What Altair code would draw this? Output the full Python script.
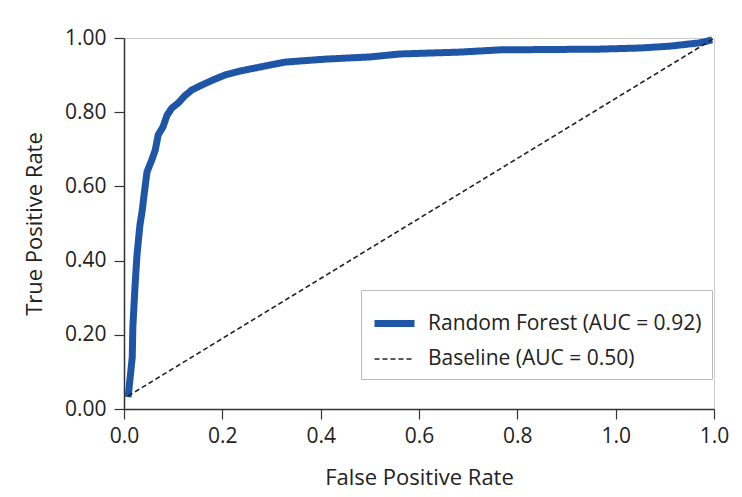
import altair as alt
import pandas as pd

# Random Forest ROC curve (x in axis fraction, y = true positive rate)
rf_fpr = [0.007, 0.010, 0.014, 0.015, 0.019, 0.022, 0.027, 0.031, 0.034, 0.039,
          0.047, 0.053, 0.058, 0.066, 0.073, 0.081, 0.092, 0.103, 0.115, 0.129,
          0.151, 0.171, 0.197, 0.222, 0.247, 0.273, 0.298, 0.341, 0.417, 0.468,
          0.569, 0.637, 0.807, 0.875, 0.925, 0.976, 0.997]
rf_tpr = [0.032, 0.078, 0.140, 0.221, 0.340, 0.415, 0.496, 0.536, 0.577, 0.639,
          0.671, 0.698, 0.739, 0.760, 0.792, 0.811, 0.825, 0.844, 0.860, 0.871,
          0.887, 0.900, 0.911, 0.919, 0.927, 0.935, 0.938, 0.943, 0.949, 0.957,
          0.962, 0.968, 0.970, 0.973, 0.978, 0.987, 0.995]

base_fpr = [0.007, 0.999]
base_tpr = [0.035, 0.998]

series = ["Random Forest (AUC = 0.92)", "Baseline (AUC = 0.50)"]
colors = ["#1f55a6", "#222222"]

x_tick_labels = ["0.0", "0.2", "0.4", "0.6", "0.8", "1.0", "1.0"]
x_tick_values = [i / (len(x_tick_labels) - 1) for i in range(len(x_tick_labels))]
y_tick_values = [0.0, 0.2, 0.4, 0.6, 0.8, 1.0]

rows = []
for i, (x, y) in enumerate(zip(rf_fpr, rf_tpr)):
    rows.append({"series": series[0], "fpr": x, "tpr": y, "order": i})
for i, (x, y) in enumerate(zip(base_fpr, base_tpr)):
    rows.append({"series": series[1], "fpr": x, "tpr": y, "order": i})
df = pd.DataFrame(rows)

label_arr = "[" + ",".join("'" + s + "'" for s in x_tick_labels) + "]"
label_expr = label_arr + "[round(datum.value*" + str(len(x_tick_labels) - 1) + ")]"

FONT = "Open Sans"

chart = alt.Chart(df).mark_line().encode(
    x=alt.X("fpr:Q", scale=alt.Scale(domain=[0, 1], nice=False, zero=False),
            axis=alt.Axis(title="False Positive Rate", values=x_tick_values,
                          labelExpr=label_expr, grid=False, tickSize=10,
                          labelFlush=False, labelPadding=6, titlePadding=21)),
    y=alt.Y("tpr:Q", scale=alt.Scale(domain=[0, 1], nice=False),
            axis=alt.Axis(title="True Positive Rate", values=y_tick_values,
                          format=".2f", grid=False, tickSize=10,
                          labelPadding=8, titlePadding=18)),
    color=alt.Color("series:N", scale=alt.Scale(domain=series, range=colors),
                    legend=alt.Legend(title=None, orient="none", legendX=237,
                                      legendY=252, symbolType="stroke",
                                      symbolSize=1600, labelFontSize=21,
                                      labelFont=FONT, labelColor="#222",
                                      labelOffset=10, rowPadding=-3,
                                      padding=10, strokeColor="#bbbbbb",
                                      fillColor="white", labelLimit=400)),
    strokeDash=alt.StrokeDash("series:N", scale=alt.Scale(domain=series, range=[[1, 0], [5, 3]]),
                              legend=None),
    strokeWidth=alt.StrokeWidth("series:N", scale=alt.Scale(domain=series, range=[7, 1.6]),
                                legend=None),
    order="order:Q",
    detail="series:N",
).properties(
    width=590, height=371,
    autosize=alt.AutoSizeParams(type="none"),
    padding={"left": 116, "top": 30, "right": 20, "bottom": 80},
).configure_view(
    stroke="#cccccc", strokeWidth=1
).configure_axis(
    labelFont=FONT, titleFont=FONT, labelFontSize=21, titleFontSize=22,
    titleFontWeight="normal", labelColor="#222", titleColor="#222",
    domainColor="#333", tickColor="#333", domainWidth=1.5, tickWidth=1.2,
)

chart.save("out.html", embed_options={"renderer": "svg", "actions": False})
